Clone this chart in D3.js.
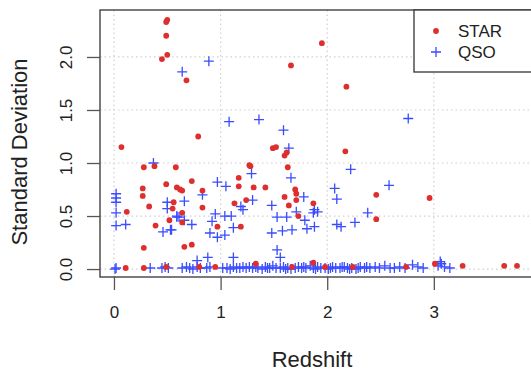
<!DOCTYPE html>
<html>
<head>
<meta charset="utf-8">
<script src="https://cdn.jsdelivr.net/npm/d3@7"></script>
<style>
  html, body { margin: 0; padding: 0; background: #fff; }
  svg { display: block; font-family: "Liberation Sans", Arial, sans-serif; }
</style>
</head>
<body>
<div id="chart"></div>
<script>
// [redshift, standard deviation]
const starPoints = [
  [0.50, 2.35], [0.49, 2.33], [0.49, 2.20], [0.50, 2.02], [0.45, 1.98],
  [0.07, 1.15], [0.68, 1.78], [1.95, 2.13], [1.66, 1.92], [2.18, 1.72],
  [0.79, 1.25], [1.49, 1.14], [1.52, 1.15], [2.17, 1.11], [1.62, 1.10],
  [1.60, 1.07], [0.28, 0.96], [0.38, 0.97], [0.58, 0.96], [1.27, 0.98],
  [1.28, 0.97], [1.63, 0.96], [0.27, 0.76], [0.27, 0.69], [0.49, 0.80],
  [0.59, 0.77], [0.62, 0.75], [0.64, 0.74], [0.73, 0.83], [1.17, 0.86],
  [1.17, 0.78], [1.31, 0.77], [1.42, 0.77], [0.83, 0.74], [1.70, 0.75],
  [1.71, 0.71], [1.60, 0.68], [1.71, 0.65], [0.56, 0.63], [0.55, 0.57],
  [0.52, 0.46], [0.39, 0.41], [0.33, 0.59], [0.12, 0.54], [0.28, 0.20],
  [0.83, 0.58], [1.13, 0.62], [1.24, 0.65], [1.64, 0.60], [1.87, 0.62],
  [0.64, 0.53], [0.64, 0.44], [0.97, 0.40], [1.19, 0.40], [1.73, 0.50],
  [0.66, 0.21], [0.73, 0.23], [2.46, 0.70], [2.96, 0.67], [2.46, 0.47],
  [0.11, 0.01], [0.28, 0.01], [0.49, 0.02], [0.80, 0.02], [0.95, 0.02],
  [1.33, 0.05], [1.67, 0.02], [1.87, 0.06], [1.98, 0.02], [2.24, 0.02],
  [2.74, 0.02], [3.01, 0.05], [3.27, 0.03], [3.66, 0.03], [3.78, 0.03]
];

const qsoPoints = [
  [0.64, 1.86], [0.89, 1.96], [1.08, 1.39], [1.36, 1.41], [1.59, 1.31],
  [1.64, 1.14], [2.76, 1.42], [0.37, 1.00],
  [0.02, 0.71], [0.02, 0.67], [0.02, 0.63], [0.02, 0.53], [0.02, 0.41], [0.11, 0.42],
  [0.50, 0.63], [0.50, 0.57], [0.46, 0.35], [0.53, 0.37], [0.59, 0.49],
  [1.29, 0.90], [1.66, 0.86], [0.97, 0.82], [1.05, 0.78], [0.83, 0.70], [1.78, 0.68],
  [0.66, 0.64], [1.19, 0.59], [1.21, 0.56], [1.30, 0.65], [1.48, 0.60],
  [1.88, 0.56], [1.91, 0.54], [1.87, 0.53], [1.71, 0.54],
  [0.61, 0.49], [0.59, 0.50], [0.66, 0.46], [0.73, 0.42], [0.95, 0.52],
  [0.92, 0.45], [1.04, 0.50], [1.10, 0.50], [0.54, 0.37],
  [0.90, 0.34], [0.97, 0.30], [1.04, 0.32], [1.12, 0.39],
  [1.53, 0.49], [1.62, 0.49], [1.48, 0.34], [1.58, 0.36], [1.67, 0.37],
  [1.79, 0.46], [1.81, 0.38], [1.88, 0.40],
  [2.07, 0.76], [2.09, 0.66], [2.09, 0.42], [2.13, 0.40],
  [2.22, 0.94], [2.58, 0.79], [2.38, 0.53], [2.26, 0.44],
  [1.53, 0.18], [1.56, 0.11], [0.78, 0.08], [0.88, 0.11], [1.12, 0.11], [3.06, 0.07],
  // near-zero strip
  [0.01, 0.00], [0.02, 0.01], [0.34, 0.01], [0.45, 0.01], [0.48, 0.02], [0.51, 0.01],
  [0.64, 0.01], [0.68, 0.02], [0.71, 0.01], [0.74, 0.00], [0.78, 0.02],
  [0.81, 0.01], [0.87, 0.01], [0.90, 0.02], [1.02, 0.01], [1.06, 0.01],
  [1.09, 0.00], [1.12, 0.02], [1.15, 0.01], [1.18, 0.01], [1.21, 0.02],
  [1.24, 0.01], [1.27, 0.02], [1.30, 0.01], [1.33, 0.02], [1.35, 0.01], [1.39, 0.00],
  [1.42, 0.02], [1.44, 0.01], [1.46, 0.01], [1.49, 0.03], [1.52, 0.01], [1.56, 0.01],
  [1.59, 0.02], [1.61, 0.00], [1.63, 0.01], [1.66, 0.00], [1.70, 0.01], [1.73, 0.02],
  [1.76, 0.01], [1.78, 0.02], [1.80, 0.01], [1.84, 0.03], [1.87, 0.01], [1.89, 0.00], [1.91, 0.02],
  [1.94, 0.01], [1.98, 0.01], [2.01, 0.00], [2.03, 0.01], [2.05, 0.02], [2.08, 0.01],
  [2.12, 0.01], [2.14, 0.02], [2.16, 0.02], [2.19, 0.01], [2.21, 0.00], [2.23, 0.01], [2.27, 0.00],
  [2.29, 0.01], [2.31, 0.02], [2.35, 0.01], [2.37, 0.02], [2.40, 0.01], [2.45, 0.02], [2.49, 0.01],
  [2.54, 0.03], [2.59, 0.01], [2.63, 0.01], [2.68, 0.02], [2.73, 0.01],
  [2.80, 0.04], [2.85, 0.02], [2.90, 0.01], [3.04, 0.03], [3.07, 0.05],
  [3.10, 0.02], [3.15, 0.01]
];

const xTicks = [0, 1, 2, 3];
const yTicks = [0, 0.5, 1, 1.5, 2];
const legendLabels = ['STAR', 'QSO'];

const width = 531, height = 372;
const box = { left: 100, right: 533, top: 10, bottom: 277 };
const starColor = '#df2e2e';
const qsoColor = '#3a4cff';

const x = d3.scaleLinear().domain([-0.131, 3.93]).range([box.left, box.right]);
const y = d3.scaleLinear().domain([-0.075, 2.443]).range([box.bottom, box.top]);

const svg = d3.select('#chart')
  .append('svg')
  .attr('width', width)
  .attr('height', height);

svg.append('defs').append('clipPath')
  .attr('id', 'plot-clip')
  .append('rect')
  .attr('x', box.left)
  .attr('y', box.top)
  .attr('width', box.right - box.left)
  .attr('height', box.bottom - box.top);

// dotted grid
const grid = svg.append('g')
  .attr('stroke', '#cfcfcf')
  .attr('stroke-width', 1.2)
  .attr('stroke-dasharray', '1.5,3');

grid.selectAll('line.gx')
  .data(xTicks)
  .enter()
  .append('line')
  .attr('x1', d => x(d))
  .attr('x2', d => x(d))
  .attr('y1', box.top)
  .attr('y2', box.bottom);

grid.selectAll('line.gy')
  .data(yTicks)
  .enter()
  .append('line')
  .attr('x1', box.left)
  .attr('x2', box.right)
  .attr('y1', d => y(d))
  .attr('y2', d => y(d));

const plot = svg.append('g').attr('clip-path', 'url(#plot-clip)');

// QSO as plus marks
plot.selectAll('path.qso')
  .data(qsoPoints)
  .enter()
  .append('path')
  .attr('class', 'qso')
  .attr('d', d => `M${x(d[0]) - 5},${y(d[1])}h10M${x(d[0])},${y(d[1]) - 5}v10`)
  .attr('stroke', qsoColor)
  .attr('stroke-width', 1.3)
  .attr('fill', 'none');

// STAR as filled dots
plot.selectAll('circle.star')
  .data(starPoints)
  .enter()
  .append('circle')
  .attr('class', 'star')
  .attr('cx', d => x(d[0]))
  .attr('cy', d => y(d[1]))
  .attr('r', 2.9)
  .attr('fill', starColor);

// frame
svg.append('rect')
  .attr('x', box.left)
  .attr('y', box.top)
  .attr('width', box.right - box.left)
  .attr('height', box.bottom - box.top)
  .attr('fill', 'none')
  .attr('stroke', '#333')
  .attr('stroke-width', 1.3);

// axes
const xAxis = svg.append('g')
  .attr('transform', `translate(0,${box.bottom})`)
  .call(d3.axisBottom(x).tickValues(xTicks).tickFormat(d3.format('d')).tickSize(13).tickPadding(16));
xAxis.select('.domain').remove();
xAxis.selectAll('line').attr('stroke', '#555').attr('stroke-width', 1.3);
xAxis.selectAll('text')
  .attr('font-size', '17px')
  .attr('fill', '#222')
  .attr('font-family', '"Liberation Sans", Arial, sans-serif');

const yAxis = svg.append('g')
  .attr('transform', `translate(${box.left},0)`)
  .call(d3.axisLeft(y).tickValues(yTicks).tickFormat(d3.format('.1f')).tickSize(13).tickPadding(0));
yAxis.select('.domain').remove();
yAxis.selectAll('line').attr('stroke', '#555').attr('stroke-width', 1.3);
yAxis.selectAll('text')
  .attr('x', null)
  .attr('dy', null)
  .attr('transform', 'translate(-28,0) rotate(-90)')
  .attr('text-anchor', 'middle')
  .attr('font-size', '17px')
  .attr('fill', '#222')
  .attr('font-family', '"Liberation Sans", Arial, sans-serif');

// axis titles
svg.append('text')
  .attr('x', 312)
  .attr('y', 367)
  .attr('text-anchor', 'middle')
  .attr('font-size', '22px')
  .attr('fill', '#222')
  .text('Redshift');

svg.append('text')
  .attr('transform', 'translate(27,152) rotate(-90)')
  .attr('text-anchor', 'middle')
  .attr('font-size', '22px')
  .attr('fill', '#222')
  .text('Standard Deviation');

// legend
const legend = svg.append('g');
legend.append('rect')
  .attr('x', 414)
  .attr('y', box.top)
  .attr('width', 130)
  .attr('height', 62)
  .attr('fill', '#fff')
  .attr('stroke', '#333')
  .attr('stroke-width', 1.3);

const items = legend.selectAll('g.item')
  .data(legendLabels)
  .enter()
  .append('g')
  .attr('transform', (d, i) => `translate(436,${31 + i * 21})`);

items.filter((d, i) => i === 0)
  .append('circle')
  .attr('r', 2.9)
  .attr('fill', starColor);

items.filter((d, i) => i === 1)
  .append('path')
  .attr('d', 'M-5,0h10M0,-5v10')
  .attr('stroke', qsoColor)
  .attr('stroke-width', 1.3);

items.append('text')
  .attr('x', 22)
  .attr('dy', '0.35em')
  .attr('font-size', '17px')
  .attr('fill', '#222')
  .text(d => d);
</script>
</body>
</html>
